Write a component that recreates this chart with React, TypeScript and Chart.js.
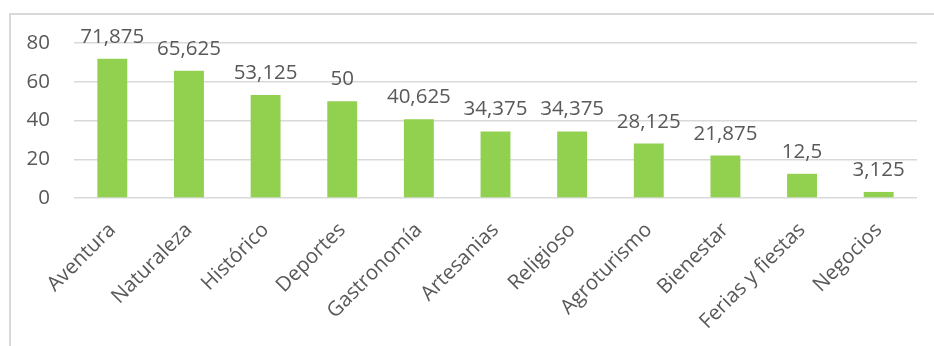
import React, { useEffect, useRef } from "react";
import { Chart, registerables } from "chart.js";

Chart.register(...registerables);

const categories = [
  "Aventura",
  "Naturaleza",
  "Histórico",
  "Deportes",
  "Gastronomía",
  "Artesanias",
  "Religioso",
  "Agroturismo",
  "Bienestar",
  "Ferias y fiestas",
  "Negocios",
];
const values = [71.875, 65.625, 53.125, 50, 40.625, 34.375, 34.375, 28.125, 21.875, 12.5, 3.125];
const yTicks = [0, 20, 40, 60, 80];

const FONT = "'Open Sans', 'DejaVu Sans', sans-serif";
const TEXT = "#595959";
const SIZE = 20.5;

const fmt = (v: number) => String(v).replace(".", ",");

const dataLabels = {
  id: "dataLabels",
  afterDatasetsDraw(chart: any) {
    const ctx = chart.ctx;
    const meta = chart.getDatasetMeta(0);
    ctx.save();
    ctx.font = `${SIZE}px ${FONT}`;
    ctx.fillStyle = TEXT;
    ctx.textAlign = "center";
    ctx.textBaseline = "alphabetic";
    meta.data.forEach((bar: any, i: number) => {
      ctx.fillText(fmt(values[i]), bar.x, bar.y - 16);
    });
    ctx.restore();
  },
};

export default function App() {
  const ref = useRef<HTMLCanvasElement>(null);
  useEffect(() => {
    document.body.style.margin = "0";
    const chart = new Chart(ref.current!, {
      type: "bar",
      data: {
        labels: categories,
        datasets: [
          {
            data: values,
            backgroundColor: "#92D050",
            borderWidth: 0,
            categoryPercentage: 1,
            barPercentage: 0.39,
          },
        ],
      },
      options: {
        animation: false,
        responsive: false,
        maintainAspectRatio: false,
        layout: { padding: { top: 43, right: 17, left: 0, bottom: 0 } },
        plugins: {
          legend: { display: false },
          tooltip: { enabled: false },
        },
        scales: {
          x: {
            grid: { display: false },
            border: { display: false },
            ticks: {
              font: { family: FONT, size: SIZE },
              color: TEXT,
              maxRotation: 45,
              minRotation: 45,
              autoSkip: false,
              padding: 12,
            },
            afterFit(scale: any) {
              scale.height = 346 - 198;
            },
          },
          y: {
            min: 0,
            max: 80,
            afterBuildTicks(scale: any) {
              scale.ticks = yTicks.map((v) => ({ value: v }));
            },
            grid: { color: "#d9d9d9", lineWidth: 1.5, drawTicks: false },
            border: { display: false },
            ticks: {
              font: { family: FONT, size: SIZE },
              color: TEXT,
              padding: 24,
            },
            afterFit(scale: any) {
              scale.width = 74;
            },
          },
        },
      },
      plugins: [dataLabels],
    });
    return () => chart.destroy();
  }, []);
  return (
    <div style={{ position: "relative", width: 934, height: 346, overflow: "hidden", background: "#fff" }}>
      <div
        style={{
          position: "absolute",
          left: 9,
          top: 13,
          width: 1000,
          height: 400,
          border: "2px solid #d9d9d9",
          boxSizing: "border-box",
        }}
      />
      <canvas ref={ref} width={934} height={346} style={{ position: "absolute", left: 0, top: 0 }} />
    </div>
  );
}
